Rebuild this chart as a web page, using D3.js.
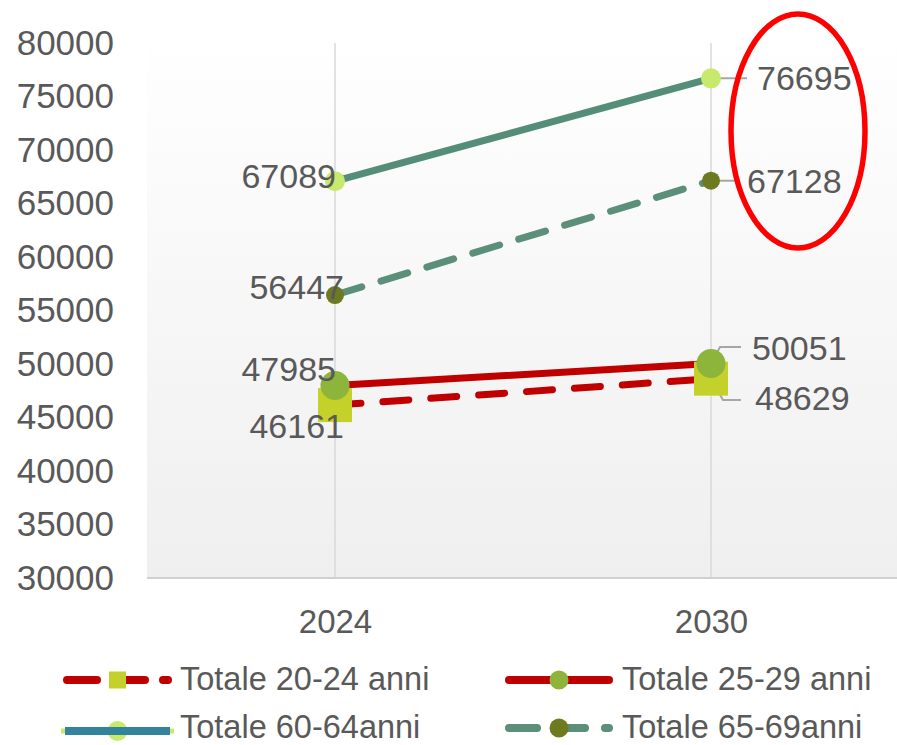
<!DOCTYPE html>
<html>
<head>
<meta charset="utf-8">
<script src="https://cdn.jsdelivr.net/npm/d3@7"></script>
<style>
  html, body { margin: 0; padding: 0; background: #fff; }
  svg { display: block; font-family: "Liberation Sans", Arial, sans-serif; }
</style>
</head>
<body>
<div id="chart"></div>
<script>
// Data
const years = ["2024", "2030"];
const yTicks = [30000, 35000, 40000, 45000, 50000, 55000, 60000, 65000, 70000, 75000, 80000];
const seriesNames = ["Totale 20-24 anni", "Totale 25-29 anni", "Totale 60-64anni", "Totale 65-69anni"];
const tot2024 = [46161, 47985, 67089, 56447];
const tot2030 = [48629, 50051, 76695, 67128];

const width = 897, height = 745;
const textColor = "#595959";

// series styling (drawing only)
const styles = [
  { line: "#c00000", dash: "26,22", marker: "square", mcolor: "#c3d12a", size: 34, legendLine: "#c00000", legendDash: "30,18" },
  { line: "#c00000", dash: null, marker: "circle", mcolor: "#8db53c", size: 29, legendLine: "#c00000", legendDash: null },
  { line: "#548e78", dash: null, marker: "circle", mcolor: "#c8ea6c", size: 20, legendLine: "#31849b", legendDash: null },
  { line: "#5b8f7a", dash: "28,20", marker: "circle", mcolor: "#6d7a1f", size: 18, legendLine: "#5b8f7a", legendDash: "28,20" }
];

const series = seriesNames.map((name, i) => ({
  name,
  values: [tot2024[i], tot2030[i]],
  style: styles[i]
}));

const svg = d3.select("#chart").append("svg")
  .attr("width", width)
  .attr("height", height);

const x = d3.scalePoint().domain(years).range([147, 899]).padding(0.5);
const y = d3.scaleLinear().domain([30000, 80000]).range([578, 43]);

// Plot background gradient
const defs = svg.append("defs");
const grad = defs.append("linearGradient")
  .attr("id", "bg").attr("x1", 0).attr("y1", 0).attr("x2", 0).attr("y2", 1);
grad.append("stop").attr("offset", "0%").attr("stop-color", "#ffffff");
grad.append("stop").attr("offset", "100%").attr("stop-color", "#efefef");

svg.append("rect")
  .attr("x", 147).attr("y", 30)
  .attr("width", width - 147).attr("height", y(30000) - 30)
  .attr("fill", "url(#bg)");

// Vertical gridlines
svg.append("g").selectAll("line")
  .data(years)
  .join("line")
  .attr("x1", d => x(d)).attr("x2", d => x(d))
  .attr("y1", y(80000)).attr("y2", y(30000))
  .attr("stroke", "#d9d9d9").attr("stroke-width", 1.5);

// Bottom axis
const xAxis = svg.append("g")
  .attr("transform", `translate(0,${y(30000)})`)
  .call(d3.axisBottom(x).tickSize(0).tickPadding(32));
xAxis.select(".domain").remove();
xAxis.append("line")
  .attr("x1", 147).attr("x2", width)
  .attr("stroke", "#d0d0d0").attr("stroke-width", 2);
xAxis.selectAll("text")
  .attr("fill", textColor)
  .attr("font-size", 33)
  .attr("font-family", "Liberation Sans, Arial, sans-serif");

// Left axis labels
const yAxis = svg.append("g")
  .attr("transform", "translate(114,0)")
  .call(d3.axisLeft(y).tickValues(yTicks).tickSize(0).tickPadding(0).tickFormat(d3.format("d")));
yAxis.select(".domain").remove();
yAxis.selectAll("text")
  .attr("fill", textColor)
  .attr("font-size", 35)
  .attr("font-family", "Liberation Sans, Arial, sans-serif");

// Lines
const line = d3.line()
  .x((d, i) => x(years[i]))
  .y(d => y(d));

svg.append("g").selectAll("path")
  .data(series)
  .join("path")
  .attr("d", d => line(d.values))
  .attr("fill", "none")
  .attr("stroke", d => d.style.line)
  .attr("stroke-width", 7)
  .attr("stroke-linecap", "round")
  .attr("stroke-dasharray", d => d.style.dash);

// Data label leader lines
const leaders = [
  [[x("2030"), y(tot2030[2])], [747, y(tot2030[2])]],
  [[x("2030"), y(tot2030[3])], [737, y(tot2030[3])]],
  [[x("2030"), y(tot2030[1])], [720, 347], [741, 347]],
  [[x("2030"), y(tot2030[0])], [723, 400], [741, 400]]
];
svg.append("g").selectAll("path")
  .data(leaders)
  .join("path")
  .attr("d", d => d3.line()(d))
  .attr("fill", "none")
  .attr("stroke", "#a6a6a6")
  .attr("stroke-width", 2);

// Markers
function drawMarker(g, st, cx, cy) {
  if (st.marker === "square") {
    g.append("rect")
      .attr("x", cx - st.size / 2).attr("y", cy - st.size / 2)
      .attr("width", st.size).attr("height", st.size)
      .attr("fill", st.mcolor);
  } else {
    g.append("circle")
      .attr("cx", cx).attr("cy", cy).attr("r", st.size / 2)
      .attr("fill", st.mcolor);
  }
}

const markers = svg.append("g");
series.forEach(s => {
  s.values.forEach((v, i) => drawMarker(markers, s.style, x(years[i]), y(v)));
});

// Data labels
const labels = [
  { v: tot2024[2], x: 336, y: 176, anchor: "end" },
  { v: tot2024[3], x: 344, y: 287, anchor: "end" },
  { v: tot2024[1], x: 336, y: 369, anchor: "end" },
  { v: tot2024[0], x: 344, y: 426, anchor: "end" },
  { v: tot2030[2], x: 757, y: 78, anchor: "start" },
  { v: tot2030[3], x: 747, y: 181, anchor: "start" },
  { v: tot2030[1], x: 752, y: 348, anchor: "start" },
  { v: tot2030[0], x: 755, y: 398, anchor: "start" }
];
svg.append("g").selectAll("text")
  .data(labels)
  .join("text")
  .attr("x", d => d.x)
  .attr("y", d => d.y)
  .attr("dy", "0.35em")
  .attr("text-anchor", d => d.anchor)
  .attr("fill", textColor)
  .attr("font-size", 34)
  .text(d => d.v);

// Legend
const legendPos = [
  { sx: 63, ex: 172, tx: 180, y: 679 },
  { sx: 505, ex: 613, tx: 622, y: 679 },
  { sx: 63, ex: 172, tx: 180, y: 727 },
  { sx: 505, ex: 613, tx: 622, y: 727 }
];
const legend = svg.append("g");
series.forEach((s, i) => {
  const p = legendPos[i];
  const g = legend.append("g");
  const cx = (p.sx + p.ex) / 2;
  if (i === 2) {
    g.append("line")
      .attr("x1", p.sx - 2).attr("x2", p.ex + 2)
      .attr("y1", p.y + 4).attr("y2", p.y + 4)
      .attr("stroke", s.style.mcolor).attr("stroke-width", 5);
    drawMarker(g, s.style, cx, p.y + 4);
    g.append("line")
      .attr("x1", p.sx + 2).attr("x2", p.ex - 2)
      .attr("y1", p.y + 4).attr("y2", p.y + 4)
      .attr("stroke", s.style.legendLine).attr("stroke-width", 8);
  } else {
    g.append("line")
      .attr("x1", p.sx + 4).attr("x2", p.ex - 4)
      .attr("y1", p.y + 1).attr("y2", p.y + 1)
      .attr("stroke", s.style.legendLine).attr("stroke-width", 8)
      .attr("stroke-linecap", "round")
      .attr("stroke-dasharray", s.style.legendDash);
    drawMarker(g, Object.assign({}, s.style, { size: s.style.marker === "square" ? 17 : 19 }), cx, p.y + 1);
  }
  g.append("text")
    .attr("x", p.tx).attr("y", p.y)
    .attr("dy", "0.35em")
    .attr("fill", textColor)
    .attr("font-size", 32.5)
    .text(s.name);
});

// Red highlight ellipse
svg.append("ellipse")
  .attr("cx", 798).attr("cy", 131)
  .attr("rx", 67).attr("ry", 117)
  .attr("fill", "none")
  .attr("stroke", "#ff0000")
  .attr("stroke-width", 5.5);
</script>
</body>
</html>
